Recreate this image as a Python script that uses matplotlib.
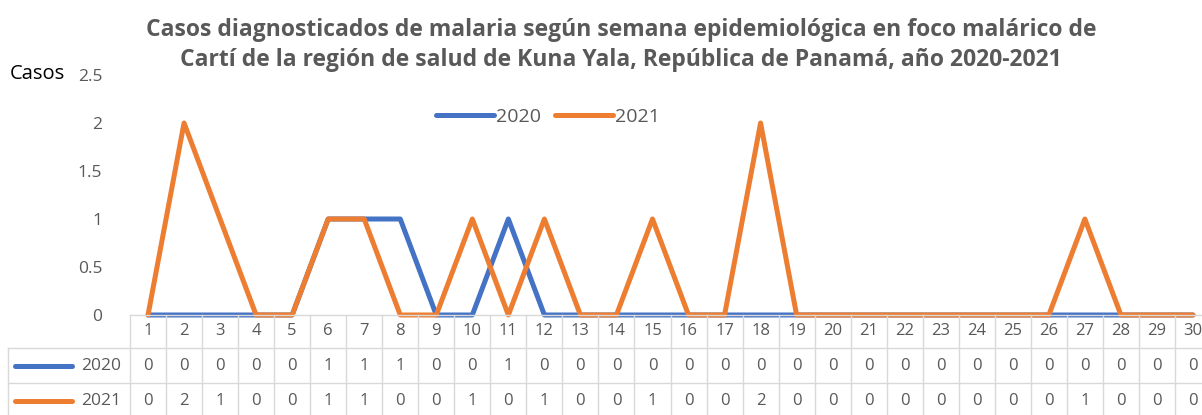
import numpy as np
import matplotlib.pyplot as plt
from matplotlib.transforms import blended_transform_factory

# semanas epidemiologicas y casos por año
semanas = [str(i) for i in range(1, 31)]
casos_2020 = [0, 0, 0, 0, 0, 1, 1, 1, 0, 0, 1, 0, 0, 0, 0, 0, 0, 0, 0, 0, 0, 0, 0, 0, 0, 0, 0, 0, 0, 0]
casos_2021 = [0, 2, 1, 0, 0, 1, 1, 0, 0, 1, 0, 1, 0, 0, 1, 0, 0, 2, 0, 0, 0, 0, 0, 0, 0, 0, 1, 0, 0, 0]
series = [("2020", casos_2020, "#4472C4"), ("2021", casos_2021, "#ED7D31")]
yticks = [0, 0.5, 1, 1.5, 2, 2.5]

titulo = ("Casos diagnosticados de malaria según semana epidemiológica en foco malárico de\n"
          "Cartí de la región de salud de Kuna Yala, República de Panamá, año 2020-2021")

plt.rcParams['font.family'] = ['Open Sans', 'DejaVu Sans']
gris = "#595959"
grid = "#D9D9D9"

W, H = 1202, 415
fig = plt.figure(figsize=(W / 100, H / 100), dpi=100)
# plot area in pixel terms: x 130..1211, y 75..315
X0, X1, Y0, Y1 = 130, 1211, 75, 315
ax = fig.add_axes([X0 / W, (H - Y1) / H, (X1 - X0) / W, (Y1 - Y0) / H])

x = np.arange(len(semanas))
for nombre, vals, color in series:
    ax.plot(x, vals, color=color, lw=3.6, label=nombre,
            solid_capstyle='round', solid_joinstyle='round', clip_on=False)

ax.set_xlim(-0.5, len(semanas) - 0.5)
ax.set_ylim(0, 2.5)
ax.set_yticks(yticks)
ax.set_yticklabels([f"{t:g}" for t in yticks], color=gris, fontsize=12.5)
ax.tick_params(axis='y', length=0, pad=20)
ax.set_xticks([])
for s in ['top', 'right', 'left']:
    ax.spines[s].set_visible(False)
ax.spines['bottom'].set_color(grid)
ax.spines['bottom'].set_linewidth(1)


def ay(py):
    return (Y1 - py) / (Y1 - Y0)


def axx(px):
    return (px - X0) / (X1 - X0)


# legend at top
ax.legend(loc='center', bbox_to_anchor=(axx(548), ay(117)),
          ncol=2, frameon=False, handlelength=3.0, handletextpad=0.1,
          columnspacing=0.7, fontsize=14, labelcolor=gris)

# data table under the chart
tr = blended_transform_factory(ax.transData, ax.transAxes)
row_y = [ay(331), ay(366), ay(401)]
for i, s in enumerate(semanas):
    ax.text(i, row_y[0], s, transform=tr, ha='center', va='center', color=gris, fontsize=12)
    for r, (nombre, vals, color) in enumerate(series):
        ax.text(i, row_y[r + 1], f"{vals[i]}", transform=tr, ha='center', va='center',
                color=gris, fontsize=12)
for i in range(len(semanas) + 1):
    ax.plot([i - 0.5, i - 0.5], [0, ay(H + 5)], transform=tr, color=grid, lw=1, clip_on=False)
ax.plot([axx(8), axx(8)], [ay(348), ay(H + 5)], transform=ax.transAxes, color=grid, lw=1, clip_on=False)
for py in [348, 383]:
    ax.plot([axx(8), 1], [ay(py), ay(py)], transform=ax.transAxes, color=grid, lw=1, clip_on=False)

# series keys in table
for r, (nombre, vals, color) in enumerate(series):
    ax.plot([axx(15), axx(72)], [row_y[r + 1]] * 2, transform=ax.transAxes, color=color,
            lw=3.6, solid_capstyle='round', clip_on=False)
    ax.text(axx(121), row_y[r + 1], nombre, transform=ax.transAxes, ha='right', va='center',
            color=gris, fontsize=12.5)

fig.text(621 / W, 1 - 45 / H, titulo, ha='center', va='center', fontsize=16.5,
         fontweight='bold', color=gris, linespacing=1.3)
fig.text(10 / W, 1 - 74 / H, "Casos", ha='left', va='center', fontsize=14.5, color='black')

fig.savefig("out.png", dpi=100)
